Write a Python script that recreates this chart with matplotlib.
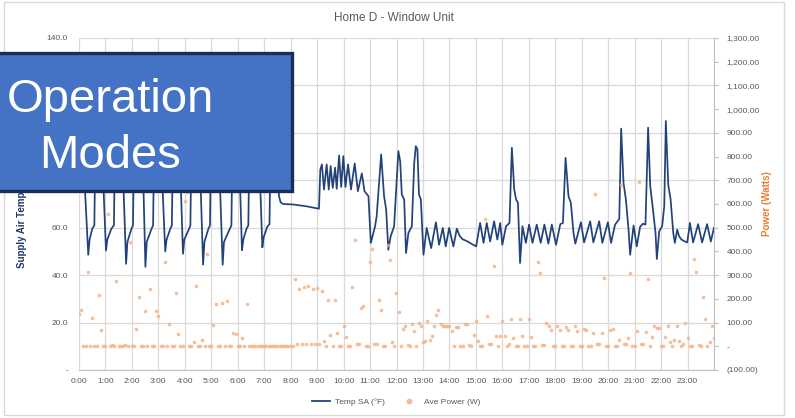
import numpy as np
import matplotlib.pyplot as plt
from matplotlib.patches import Rectangle
from matplotlib.lines import Line2D

plt.rcParams['font.family'] = ['Liberation Sans', 'DejaVu Sans']

# supply air temperature (deg F), hour of day
temp_hours = [
    0.00, 0.10, 0.19, 0.35, 0.40, 0.50, 0.58, 0.62, 0.80,
    0.90, 1.02, 1.07, 1.22, 1.32, 1.36, 1.56,
    1.66, 1.78, 1.83, 1.98, 2.04, 2.08, 2.32,
    2.42, 2.51, 2.56, 2.74, 2.80, 2.84, 3.03,
    3.13, 3.26, 3.31, 3.45, 3.51, 3.55, 3.73,
    3.83, 3.93, 3.98, 4.16, 4.21, 4.25, 4.48,
    4.58, 4.69, 4.74, 4.89, 4.95, 4.99, 5.21,
    5.31, 5.43, 5.48, 5.70, 5.76, 5.80, 5.97,
    6.07, 6.16, 6.21, 6.33, 6.40, 6.44, 6.73,
    6.83, 6.93, 6.98, 7.12, 7.20, 7.24, 7.45,
    7.56, 7.62, 7.72, 8.10, 8.61, 9.07,
    9.12, 9.18, 9.26, 9.36, 9.44, 9.51, 9.59, 9.68, 9.74, 9.83, 9.91, 9.99,
    10.07, 10.17, 10.28, 10.42, 10.54, 10.69, 10.79, 10.94,
    11.03, 11.19, 11.25, 11.42, 11.53, 11.61, 11.69, 11.78, 11.91,
    12.07, 12.14, 12.20, 12.29, 12.36, 12.45, 12.58, 12.67, 12.73, 12.79, 12.85, 12.92,
    13.02, 13.14, 13.31, 13.49, 13.61, 13.75, 13.86, 13.99,
    14.15, 14.28, 14.38, 14.49, 14.69, 14.85,
    15.01, 15.16, 15.29, 15.41, 15.54, 15.69, 15.81, 15.92,
    16.00, 16.14, 16.27, 16.36, 16.45, 16.52, 16.59, 16.67, 16.76, 16.89,
    17.01, 17.14, 17.30, 17.45, 17.59, 17.74, 17.87,
    18.03, 18.19, 18.29, 18.39, 18.50, 18.59, 18.69, 18.76, 18.97,
    19.09, 19.32, 19.44, 19.66, 19.78, 19.99,
    20.11, 20.26, 20.42, 20.49, 20.58, 20.67, 20.77, 20.83, 20.96,
    21.08, 21.21, 21.32, 21.41, 21.51, 21.59, 21.68, 21.79, 21.84, 21.93,
    22.04, 22.12, 22.18, 22.27, 22.36, 22.46, 22.52, 22.61, 22.68, 22.77, 22.90, 22.99,
    23.09, 23.21, 23.40, 23.55, 23.74, 23.88, 24.00,
]
temp_sa = [
    95, 90, 84, 48.6, 55, 59.5, 61, 96, 90,
    84, 50.4, 55, 59.5, 61, 96, 90,
    84, 44.8, 54, 59.5, 61, 96, 90,
    84, 43.5, 54, 59.5, 61, 96, 90,
    84, 50.0, 55, 59.5, 61, 96, 90,
    84, 49.0, 55, 59.5, 61, 96, 90,
    84, 44.4, 54, 59.5, 61, 96, 90,
    84, 44.4, 54, 59.5, 61, 96, 90,
    84, 50.5, 55, 59.5, 61, 96, 90,
    84, 51.7, 56, 60.5, 61.5, 96, 92,
    73.3, 70.7, 70.0, 69.8, 69.0, 68.0,
    84.5, 86.7, 76.1, 86.7, 76.1, 86.0, 76.8, 85.3, 76.4, 90.5, 77.2, 90.2,
    77.2, 86.7, 76.1, 87.1, 75.4, 82.9, 75.4, 73.3,
    53.6, 60.6, 64.8, 90.9, 73.3, 67.6, 50.7, 56.4, 60.6,
    92.3, 88.0, 74.0, 71.9, 49.3, 57.8, 60.6, 87.4, 94.4, 93.0, 74.0, 71.9,
    48.6, 59.9, 51.4, 62.3, 52.8, 59.9, 52.1, 59.9,
    52.1, 59.6, 56.7, 55.2, 54.2, 53.1,
    52.1, 62.0, 53.6, 62.0, 54.2, 62.7, 55.0, 62.0,
    52.8, 60.6, 62.0, 93.7, 76.1, 71.9, 70.5, 45.1, 60.6, 53.6,
    61.3, 53.6, 61.3, 53.6, 61.3, 53.3, 61.3,
    52.8, 61.5, 62.0, 89.5, 73.3, 70.5, 57.8, 53.3, 62.3,
    53.8, 62.7, 53.8, 62.7, 53.6, 62.3,
    53.6, 61.3, 63.7, 101.8, 78.9, 71.9, 59.2, 48.6, 60.9,
    52.1, 60.5, 61.7, 61.3, 102.2, 77.5, 69.0, 57.8, 46.8, 58.5,
    60.6, 69.0, 105.0, 78.2, 71.9, 57.8, 53.6, 59.2, 56.4, 55.0, 54.2, 53.8,
    62.0, 53.8, 61.5, 53.8, 61.5, 54.2, 60.0,
]

# average power (W), 5-minute readings from 0:00 to 24:00
ave_power = [
    137, 154, 3, 2, 312, 2, 120, 3, 3, 218, 70, 2,
    2, 559, 2, 5, 3, 277, 2, 2, 2, 5, 3, 440,
    3, 3, 75, 207, 2, 2, 150, 3, 241, 3, 2, 150,
    127, 0, 0, 356, 3, 92, 0, 0, 225, 52, 0, 0,
    612, 651, 2, 2, 19, 256, 2, 0, 28, 3, 390, 2,
    2, 89, 180, 2, 2, 182, 3, 193, 2, 2, 56, 52,
    0, 0, 35, 3, 179, 2, 2, 2, 2, 2, 2, 2,
    2, 2, 2, 2, 2, 2, 2, 2, 2, 2, 2, 2,
    3, 3, 284, 10, 242, 10, 249, 10, 253, 10, 242, 10,
    245, 10, 235, 21, 3, 197, 49, 3, 197, 56, 3, 3,
    87, 40, 3, 3, 249, 447, 10, 10, 162, 169, 3, 3,
    356, 411, 10, 10, 197, 155, 3, 3, 425, 363, 17, 3,
    225, 143, 0, 73, 84, 5, 0, 94, 63, 0, 99, 87,
    17, 21, 105, 28, 45, 87, 134, 151, 92, 87, 87, 87,
    87, 66, 0, 80, 80, 3, 0, 96, 92, 6, 0, 49,
    105, 21, 0, 3, 538, 127, 10, 10, 338, 42, 0, 42,
    105, 42, 0, 10, 116, 35, 0, 3, 117, 42, 0, 3,
    117, 40, 0, 0, 357, 307, 7, 7, 99, 87, 70, 0,
    0, 87, 70, 0, 0, 80, 70, 3, 0, 84, 66, 0,
    0, 73, 70, 3, 0, 54, 644, 10, 10, 56, 289, 0,
    0, 70, 73, 3, 0, 25, 682, 10, 10, 35, 310, 3,
    0, 63, 692, 10, 10, 59, 284, 0, 40, 84, 76, 76,
    3, 0, 40, 84, 17, 0, 28, 87, 24, 0, 10, 99,
    35, 0, 0, 369, 314, 5, 0, 208, 113, 0, 17, 87,
    35,
]
power_hours = np.arange(len(ave_power)) / 12.0

hour_labels = [f'{h}:00' for h in range(24)]
temp_ticks = list(range(0, 141, 20))
power_ticks = list(range(-100, 1301, 100))

navy = '#22427A'
orange = '#ED7D31'
dot = '#F4B183'
grey_txt = '#595959'
grid_c = '#D9D9D9'

fig = plt.figure(figsize=(7.95, 4.18), dpi=100)
W, H = 795, 418

# outer chart border
fig.add_artist(Rectangle((4 / W, 1 - 415 / H), 780 / W, 413 / H, transform=fig.transFigure,
                         fill=False, edgecolor='#D9D9D9', lw=1.0))

ax = fig.add_axes([79 / W, 48 / H, 635 / W, 332 / H])
ax.plot(temp_hours, temp_sa, color=navy, lw=1.25, solid_joinstyle='round', zorder=3)
ax.set_xlim(0, 24)
ax.set_ylim(0, 140)
ax.set_xticks(range(24))
ax.set_xticklabels(hour_labels)
ax.set_yticks(temp_ticks)
ax.set_yticklabels(['-' if v == 0 else f'{v:.1f}' for v in temp_ticks])
ax.grid(True, color=grid_c, lw=0.9)
ax.set_axisbelow(True)
ax.tick_params(axis='both', length=0, labelsize=6, labelcolor=grey_txt)
ax.tick_params(axis='x', pad=6)
ax.tick_params(axis='y', pad=8)
for s in ['left', 'top', 'right']:
    ax.spines[s].set_visible(False)
ax.spines['bottom'].set_color('#BFBFBF')

ax2 = ax.twinx()
ax2.scatter(power_hours, ave_power, s=7, color=dot, alpha=0.8, linewidths=0, zorder=2)
ax2.set_ylim(-100, 1300)
ax2.set_yticks(power_ticks)
ax2.set_yticklabels(['(100.00)' if v < 0 else ('-' if v == 0 else f'{v:,.2f}') for v in power_ticks])
ax2.tick_params(axis='y', length=3, color='#BFBFBF', labelsize=6, labelcolor=grey_txt, pad=6)
for s in ['left', 'top', 'bottom']:
    ax2.spines[s].set_visible(False)
ax2.spines['right'].set_color('#BFBFBF')

fig.text(394 / W, 1 - 18 / H, 'Home D - Window Unit', ha='center', va='center',
         fontsize=8.5, color=grey_txt)
fig.text(22 / W, 1 - 204 / H, 'Supply Air Temperature (°F)', rotation=90, ha='center',
         va='center', fontsize=7, fontweight='bold', color='#1F3864')
fig.text(767 / W, 1 - 204 / H, 'Power (Watts)', rotation=90, ha='center', va='center',
         fontsize=7, fontweight='bold', color=orange)

handles = [Line2D([], [], color=navy, lw=1.3),
           Line2D([], [], color=dot, marker='o', ls='', markersize=3.2, alpha=0.8)]
fig.legend(handles, ['Temp SA (°F)', 'Ave Power (W)'], loc='center', ncol=2,
           bbox_to_anchor=(396 / W, 1 - 402 / H), frameon=False, fontsize=6,
           labelcolor=grey_txt, handlelength=2.2, handletextpad=0.6, columnspacing=1.8)

# overlay label box
fig.add_artist(Rectangle((-80 / W, 1 - 190.5 / H), 372 / W, 138 / H, transform=fig.transFigure,
                         facecolor='#4472C4', edgecolor='#1A2D57', lw=2.4, zorder=10))
fig.text(110 / W, 1 - 111.5 / H, 'Operation', ha='center', va='baseline', fontsize=34,
         color='white', zorder=11)
fig.text(110 / W, 1 - 168.5 / H, 'Modes', ha='center', va='baseline', fontsize=34,
         color='white', zorder=11)

fig.savefig('out.png', dpi=100)
